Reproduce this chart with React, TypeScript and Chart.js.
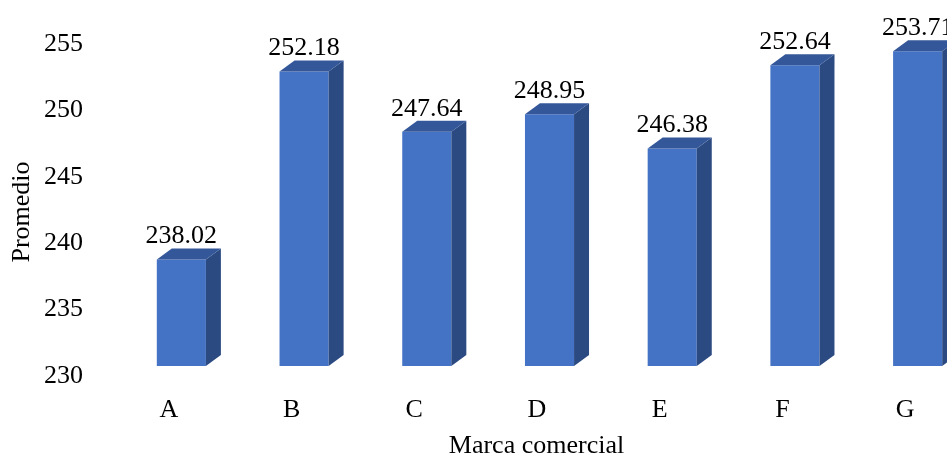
import React, { useEffect, useRef } from "react";
import { Chart, registerables } from "chart.js";

Chart.register(...registerables);

const categories = ["A", "B", "C", "D", "E", "F", "G"];
const promedio = [238.02, 252.18, 247.64, 248.95, 246.38, 252.64, 253.71];
const yTitle = "Promedio";
const xTitle = "Marca comercial";

const FONT = "'Liberation Serif', 'Times New Roman', serif";
const FRONT = "#4472C4";
const TOP = "#34579A";
const SIDE = "#2B4A82";
const DX = 15;
const DY = -11;

const bar3d = {
  id: "bar3d",
  afterDatasetsDraw(chart: any) {
    const ctx = chart.ctx;
    const meta = chart.getDatasetMeta(0);
    const yScale = chart.scales.y;
    const b = yScale.getPixelForValue(yScale.min);
    ctx.save();
    meta.data.forEach((el: any, i: number) => {
      const p = el.getProps(["x", "y", "width"], true);
      const l = p.x - p.width / 2;
      const r = p.x + p.width / 2;
      const t = p.y;
      // side face
      ctx.fillStyle = SIDE;
      ctx.beginPath();
      ctx.moveTo(r, t);
      ctx.lineTo(r + DX, t + DY);
      ctx.lineTo(r + DX, b + DY);
      ctx.lineTo(r, b);
      ctx.closePath();
      ctx.fill();
      // top face
      ctx.fillStyle = TOP;
      ctx.beginPath();
      ctx.moveTo(l, t);
      ctx.lineTo(l + DX, t + DY);
      ctx.lineTo(r + DX, t + DY);
      ctx.lineTo(r, t);
      ctx.closePath();
      ctx.fill();
      // value label
      ctx.fillStyle = "#000";
      ctx.font = `26px ${FONT}`;
      ctx.textAlign = "center";
      ctx.textBaseline = "alphabetic";
      ctx.fillText(promedio[i].toFixed(2), p.x, t - 16);
    });
    ctx.restore();
  },
  afterDraw(chart: any) {
    const ctx = chart.ctx;
    const area = chart.chartArea;
    ctx.save();
    ctx.fillStyle = "#000";
    ctx.font = `26px ${FONT}`;
    ctx.textAlign = "center";
    ctx.textBaseline = "middle";
    ctx.fillText(xTitle, (area.left + area.right) / 2 - 13, 446);
    ctx.translate(22, (area.top + area.bottom) / 2 + 12);
    ctx.rotate(-Math.PI / 2);
    ctx.fillText(yTitle, 0, 0);
    ctx.restore();
  },
};

export default function App() {
  const ref = useRef<HTMLCanvasElement | null>(null);

  useEffect(() => {
    if (!ref.current) return;
    const chart = new Chart(ref.current, {
      type: "bar",
      data: {
        labels: categories,
        datasets: [
          {
            data: promedio,
            backgroundColor: FRONT,
            borderWidth: 0,
            barPercentage: 0.4,
            categoryPercentage: 1,
          },
        ],
      },
      options: {
        responsive: false,
        animation: false,
        devicePixelRatio: 1,
        layout: { padding: { left: 0, right: 21, top: 34, bottom: 0 } },
        plugins: {
          legend: { display: false },
          tooltip: { enabled: false },
        },
        scales: {
          x: {
            grid: { display: false, drawTicks: false },
            border: { display: false },
            ticks: {
              color: "#000",
              font: { family: FONT, size: 26 },
              padding: 29,
              labelOffset: -12.5,
            },
            afterFit: (s: any) => {
              s.height = 89;
              s.paddingLeft = 0;
              s.paddingRight = 0;
            },
          },
          y: {
            min: 230,
            max: 255,
            grid: { display: false, drawTicks: false },
            border: { display: false },
            ticks: {
              stepSize: 5,
              color: "#000",
              font: { family: FONT, size: 26 },
              padding: 37,
              labelOffset: 10,
            },
            afterFit: (s: any) => {
              s.width = 120;
              s.paddingTop = 0;
              s.paddingBottom = 0;
            },
          },
        },
      },
      plugins: [bar3d],
    });
    return () => chart.destroy();
  }, []);

  return (
    <div
      style={{
        position: "fixed",
        left: 0,
        top: 0,
        width: 947,
        height: 455,
        overflow: "hidden",
        background: "#fff",
      }}
    >
      <canvas ref={ref} width={1000} height={455} style={{ display: "block", width: 1000, height: 455 }} />
    </div>
  );
}
